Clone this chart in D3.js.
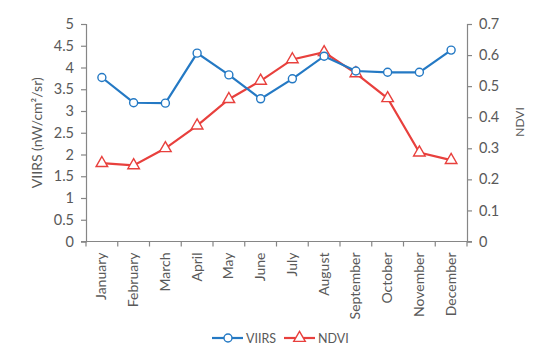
<!DOCTYPE html>
<html><head><meta charset="utf-8">
<script src="https://cdn.jsdelivr.net/npm/d3@7"></script>
<style>body{margin:0;background:#fff}svg{display:block}text{font-family:Lato,"Open Sans",sans-serif;fill:#595959}</style>
</head><body><svg id="c" width="550" height="358"></svg>
<script>
const months = ["January","February","March","April","May","June","July","August","September","October","November","December"];
const viirs = [3.77,3.19,3.18,4.33,3.83,3.28,3.74,4.26,3.92,3.89,3.89,4.40];
const ndvi = [0.252,0.245,0.300,0.373,0.458,0.517,0.586,0.609,0.541,0.461,0.286,0.262];
const leftTicks = [0,0.5,1,1.5,2,2.5,3,3.5,4,4.5,5];
const rightTicks = [0,0.1,0.2,0.3,0.4,0.5,0.6,0.7];

const svg = d3.select("#c");
const L = 86, R = 467, T = 24, B = 241.5;
const x = d3.scaleBand().domain(months).range([L, R]);
const yL = d3.scaleLinear().domain([0,5]).range([B, T]);
const yR = d3.scaleLinear().domain([0,0.7]).range([B, T]);
const axCol = "#868686";
const blue = "#2479c4", red = "#e8403d";

const gl = svg.append("g").attr("transform",`translate(${L},0)`)
  .call(d3.axisLeft(yL).tickValues(leftTicks).tickFormat(d=>d).tickSize(5).tickPadding(7));
const gr = svg.append("g").attr("transform",`translate(${R},0)`)
  .call(d3.axisRight(yR).tickValues(rightTicks).tickFormat(d=>d).tickSize(5).tickPadding(7));
[gl,gr].forEach(g=>{
  g.selectAll("path").attr("stroke",axCol).attr("stroke-width",1.2);
  g.selectAll("line").attr("stroke",axCol).attr("stroke-width",1.2);
  g.selectAll("text").style("font-size","14.5px").style("fill","#595959").attr("font-family","Lato");
});
const gb = svg.append("g");
gb.append("line").attr("x1",L-5).attr("x2",R+5).attr("y1",B).attr("y2",B).attr("stroke",axCol).attr("stroke-width",1.2);
const bounds = months.map(m=>x(m)).concat([R]);
gb.selectAll("line.tk").data(bounds).enter().append("line").attr("class","tk")
  .attr("x1",d=>d).attr("x2",d=>d).attr("y1",B).attr("y2",B+5).attr("stroke",axCol).attr("stroke-width",1.2);
gb.selectAll("text").data(months).enter().append("text")
  .attr("transform",d=>`translate(${x(d)+x.bandwidth()/2+4.5},${B+11}) rotate(-90)`)
  .attr("text-anchor","end").style("font-size","14px").text(d=>d);

svg.append("text").attr("transform",`translate(42,${(T+B)/2}) rotate(-90)`).attr("text-anchor","middle")
  .style("font-size","14px").text("VIIRS (nW/cm²/sr)");
svg.append("text").attr("transform",`translate(524,122) rotate(-90)`).attr("text-anchor","middle")
  .style("font-size","12px").text("NDVI");

const cx = d=>x(d)+x.bandwidth()/2;
const tri = d3.symbol().type(d3.symbolTriangle).size(58);

svg.append("path").datum(months).attr("fill","none").attr("stroke",red).attr("stroke-width",2.2)
  .attr("d",d3.line().x(cx).y((d,i)=>yR(ndvi[i])));
svg.selectAll("path.tri").data(months).enter().append("path").attr("class","tri")
  .attr("transform",(d,i)=>`translate(${cx(d)},${yR(ndvi[i])})`).attr("d",tri)
  .attr("fill","#fff").attr("stroke",red).attr("stroke-width",1.4);
svg.append("path").datum(months).attr("fill","none").attr("stroke",blue).attr("stroke-width",2.2)
  .attr("d",d3.line().x(cx).y((d,i)=>yL(viirs[i])));
svg.selectAll("circle.v").data(months).enter().append("circle").attr("class","v")
  .attr("cx",cx).attr("cy",(d,i)=>yL(viirs[i])).attr("r",4)
  .attr("fill","#fff").attr("stroke",blue).attr("stroke-width",1.4);

const lg = svg.append("g");
lg.append("line").attr("x1",212).attr("x2",243).attr("y1",338).attr("y2",338).attr("stroke",blue).attr("stroke-width",2.2);
lg.append("circle").attr("cx",228).attr("cy",338).attr("r",4).attr("fill","#fff").attr("stroke",blue).attr("stroke-width",1.4);
lg.append("text").attr("x",246).attr("y",342.5).style("font-size","12.5px").text("VIIRS");
lg.append("line").attr("x1",284).attr("x2",315).attr("y1",338).attr("y2",338).attr("stroke",red).attr("stroke-width",2.2);
lg.append("path").attr("transform","translate(299.5,338)").attr("d",tri).attr("fill","#fff").attr("stroke",red).attr("stroke-width",1.4);
lg.append("text").attr("x",318).attr("y",342.5).style("font-size","12.5px").text("NDVI");
</script></body></html>
